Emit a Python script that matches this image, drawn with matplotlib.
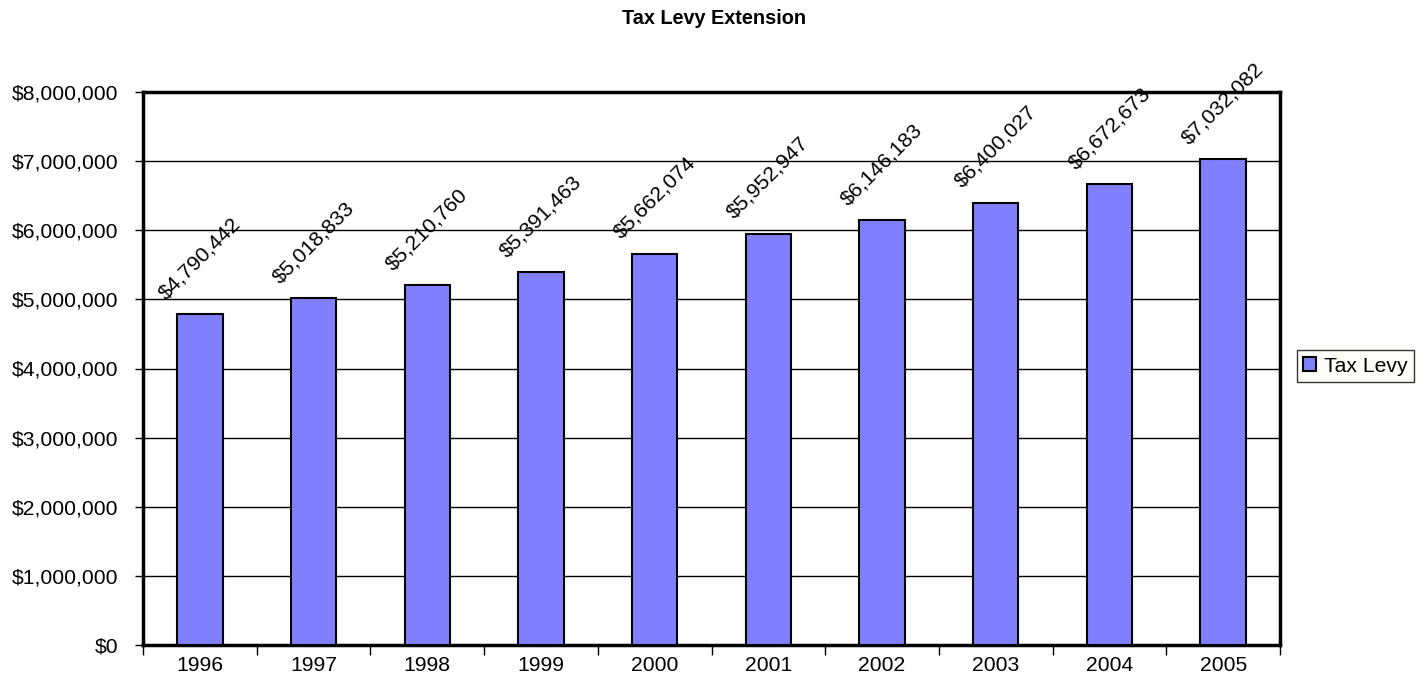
import matplotlib.pyplot as plt
from matplotlib.ticker import FuncFormatter, FixedLocator

plt.rcParams['font.family'] = ['Liberation Sans', 'DejaVu Sans']

years = ['1996', '1997', '1998', '1999', '2000', '2001', '2002', '2003', '2004', '2005']
tax_levy = [4790442, 5018833, 5210760, 5391463, 5662074, 5952947, 6146183, 6400027, 6672673, 7032082]

fig = plt.figure(figsize=(14.28, 6.86), dpi=100)
ax = fig.add_axes([143 / 1428, 1 - 645 / 686, (1280 - 143) / 1428, (645 - 92) / 686])

x = list(range(len(years)))
bars = ax.bar(x, tax_levy, width=0.4, color='#8080FF', edgecolor='black',
              linewidth=1.5, label='Tax Levy', zorder=3)

# value labels, rotated like the original
for xi, v in zip(x, tax_levy):
    ax.annotate('${:,.0f}'.format(v), (xi, v), xytext=(0, 8), textcoords='offset points',
                ha='center', va='bottom', rotation=45, fontsize=15.3)

ax.set_xlim(-0.5, len(years) - 0.5)
ax.set_ylim(0, 8000000)
ax.set_yticks(range(0, 8000001, 1000000))
ax.yaxis.set_major_formatter(FuncFormatter(lambda v, p: '${:,.0f}'.format(v)))
ax.grid(axis='y', color='black', linewidth=1, zorder=0)

# ticks between categories, labels centered
ax.set_xticks(x)
ax.set_xticklabels(years)
ax.tick_params(axis='x', which='major', length=0, pad=8, labelsize=15.2)
ax.xaxis.set_minor_locator(FixedLocator([i - 0.5 for i in range(len(years) + 1)]))
ax.tick_params(axis='x', which='minor', length=7, width=1, direction='out')
ax.tick_params(axis='y', length=6, width=1, direction='out', labelsize=15.2, pad=12)

for s in ax.spines.values():
    s.set_linewidth(2.5)
    s.set_color('black')

fig.text(0.5, 1 - 18 / 686, 'Tax Levy Extension', ha='center', va='center',
         fontsize=14.3, fontweight='bold')

leg = fig.legend(handles=[bars], labels=['Tax Levy'], loc='center left',
                 bbox_to_anchor=(1297 / 1428, 1 - 366 / 686), fontsize=15.2,
                 frameon=True, fancybox=False, edgecolor='black',
                 handlelength=0.6, handleheight=0.6, handletextpad=0.4,
                 borderpad=0.3, borderaxespad=0)
leg.get_frame().set_facecolor('#FFFDF5')
leg.get_frame().set_linewidth(1)

fig.savefig('out.png', dpi=100)
